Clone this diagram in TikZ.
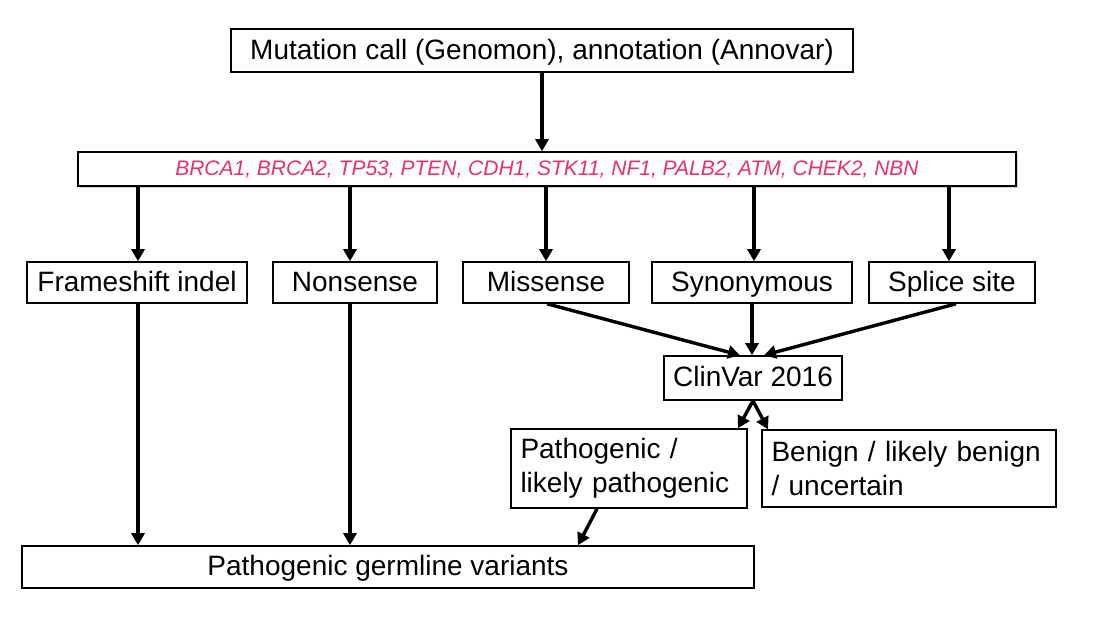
\documentclass[tikz,border=0pt]{standalone}
\usepackage{fontspec}
\setmainfont{Liberation Sans}
\usetikzlibrary{arrows.meta,shadows}
\definecolor{genepink}{RGB}{232,48,112}
\begin{document}
\begin{tikzpicture}[x=1pt,y=-1pt,
  box/.style={draw=black,line width=1.6pt,fill=white,inner sep=0pt,font=\fontsize{28}{34}\selectfont},
  oneline/.style={box,text height=20pt,text depth=3pt},
  twoline/.style={box,align=left,inner xsep=9.5pt,font=\fontsize{28}{34}\selectfont},
  arr/.style={line width=3.4pt,-{Triangle[width=13pt,length=12pt]}}]
\useasboundingbox (0,0) rectangle (1104,624);
\node[oneline,minimum width=622,minimum height=43] (top) at (542,50.5) {Mutation call (Genomon), annotation (Annovar)};
\node[box,minimum width=938,minimum height=34,drop shadow={opacity=0.35,shadow xshift=1.5pt,shadow yshift=-1.5pt},font=\fontsize{21}{25}\selectfont\itshape,text=genepink,text height=15pt,text depth=2pt] (genes) at (547,169) {BRCA1, BRCA2, TP53, PTEN, CDH1, STK11, NF1, PALB2, ATM, CHEK2, NBN};
\node[oneline,minimum width=220,minimum height=41] (fs) at (137,282.5) {Frameshift indel};
\node[oneline,minimum width=164,minimum height=41] (ns) at (355,282.5) {Nonsense};
\node[oneline,minimum width=166,minimum height=41] (ms) at (546,282.5) {Missense};
\node[oneline,minimum width=200,minimum height=41] (syn) at (752,282.5) {Synonymous};
\node[oneline,minimum width=166,minimum height=41] (ss) at (952,282.5) {Splice site};
\node[oneline,minimum width=178,minimum height=44] (cv) at (753,378) {ClinVar 2016};
\node[twoline,minimum width=236,minimum height=79,text width=217] (path) at (629,468.5) {Pathogenic /\\likely pathogenic};
\node[twoline,minimum width=294,minimum height=77,text width=275] (ben) at (909,468.5) {Benign / likely benign\\/ uncertain};
\node[oneline,minimum width=732,minimum height=42] (germ) at (388,567) {Pathogenic germline variants};
\draw[arr] (top.south) -- (genes.north -| top.south);
\draw[arr] (genes.south -| 138,0) -- (fs.north -| 138,0);
\draw[arr] (genes.south -| 350,0) -- (ns.north -| 350,0);
\draw[arr] (genes.south -| 546,0) -- (ms.north -| 546,0);
\draw[arr] (genes.south -| 754,0) -- (syn.north -| 754,0);
\draw[arr] (genes.south -| 949,0) -- (ss.north -| 949,0);
\draw[arr] (ms.south -| 547,0) -- (cv.north -| 740,0);
\draw[arr] (syn.south -| 752,0) -- (cv.north -| 752,0);
\draw[arr] (ss.south -| 956,0) -- (cv.north -| 764,0);
\coordinate (cvb) at (cv.south);
\draw[arr] (cvb) -- (path.north -| 738,0);
\draw[arr] (cvb) -- (ben.north -| 768,0);
\draw[arr] (fs.south -| 138,0) -- (germ.north -| 138,0);
\draw[arr] (ns.south -| 350,0) -- (germ.north -| 350,0);
\draw[arr] (path.south -| 597,0) -- (germ.north -| 578,0);
\end{tikzpicture}
\end{document}
